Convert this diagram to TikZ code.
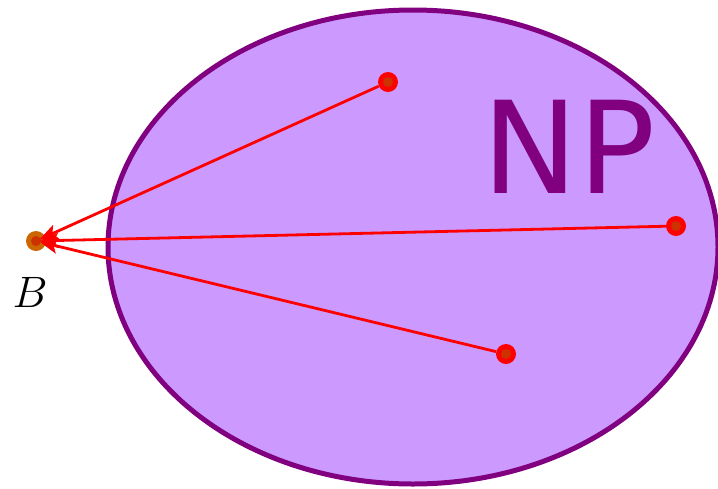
\documentclass[tikz,border=0pt]{standalone}
\usepackage{fix-cm}
\usepackage{fontspec}
\newfontfamily\npfont{DejaVu Sans}
\usetikzlibrary{arrows.meta}
\definecolor{npfill}{HTML}{CC99FF}
\definecolor{npline}{HTML}{800080}
\definecolor{borange}{HTML}{CC6600}
\definecolor{dotin}{HTML}{CC3300}
\tikzset{
  reddot/.style={circle,fill=red,minimum size=20pt,inner sep=0pt},
  bdot/.style={circle,fill=borange,minimum size=20pt,inner sep=0pt},
  redarrow/.style={red,line width=2.8pt,shorten >=4pt,-{Stealth[length=18pt,width=15pt,inset=4pt]}},
}
\begin{document}
\begin{tikzpicture}[x=1pt,y=-1pt]
\useasboundingbox (0,0) rectangle (718,488);
\clip (0,0) rectangle (718,488);
\draw[npline,fill=npfill,line width=5pt] (413,247) ellipse [x radius=305, y radius=237];
\node[npline,font=\npfont\fontsize{128}{128}\selectfont] (np) at (569,147) {NP};
\node[bdot] (b) at (36,241) {};
\fill[dotin] (b.center) circle (5);
\node[reddot] (p1) at (388,82) {};
\node[reddot] (p2) at (676,226) {};
\node[reddot] (p3) at (506,354) {};
\foreach \p in {p1,p2,p3} {\fill[dotin] (\p.center) circle (5);}
\draw[redarrow] (p1) -- (b.center);
\draw[redarrow] (p2) -- (b.center);
\draw[redarrow] (p3) -- (b.center);
\node[font=\fontsize{44}{44}\selectfont] (bl) at (30,292) {$B$};
\end{tikzpicture}
\end{document}
